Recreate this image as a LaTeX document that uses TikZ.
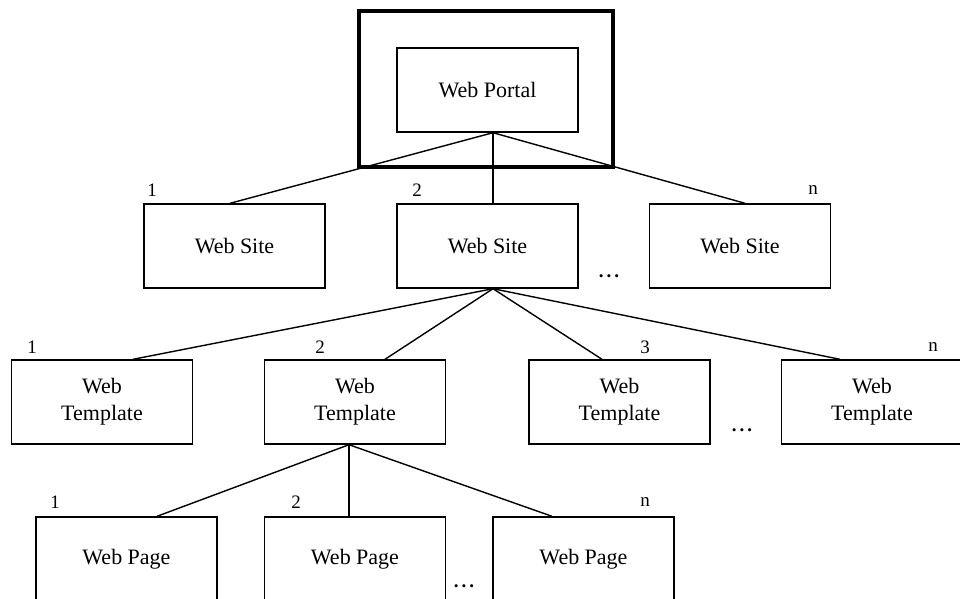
\documentclass[tikz,border=0pt]{standalone}
\usepackage{fontspec}
\setmainfont{Liberation Serif}
\begin{document}
\begin{tikzpicture}[x=1pt,y=-1pt,
  box/.style={draw, line width=1.4pt, minimum width=181pt, minimum height=84pt,
    inner sep=0pt, align=center, font=\fontsize{22}{27}\selectfont},
  frame/.style={draw, line width=3.8pt, minimum width=254pt, minimum height=156pt, inner sep=0pt},
  link/.style={line width=1.4pt},
  idx/.style={inner sep=0pt, font=\fontsize{19}{22}\selectfont},
  more/.style={inner sep=0pt, font=\bfseries\fontsize{19}{22}\selectfont}]
\useasboundingbox (0,0) rectangle (960,598);

% top level
\node[frame] (outer) at (486,89) {};
\node[box] (portal) at (487.5,90) {Web Portal};

% web sites
\node[box] (s1) at (234.5,246) {Web Site};
\node[box] (s2) at (487.5,246) {Web Site};
\node[box] (sn) at (740,246) {Web Site};
\node[idx] (ls1) at (152,190) {1};
\node[idx] (ls2) at (417,190) {2};
\node[idx] (lsn) at (813,190) {n};
\node[more] (ds) at (609,276) {.\hspace{3pt}.\hspace{3pt}.};

\coordinate (pa) at ([xshift=5.5pt]portal.south);
\draw[link] (pa) -- ([xshift=-4.5pt]s1.north);
\draw[link] (pa) -- ([xshift=5.5pt]s2.north);
\draw[link] (pa) -- ([xshift=5pt]sn.north);

% web templates
\node[box] (t1) at (102,402) {Web\\Template};
\node[box] (t2) at (355,402) {Web\\Template};
\node[box] (t3) at (619.5,402) {Web\\Template};
\node[box] (tn) at (872,402) {Web\\Template};
\node[idx] (lt1) at (32,347) {1};
\node[idx] (lt2) at (320,347) {2};
\node[idx] (lt3) at (645,347) {3};
\node[idx] (ltn) at (933,347) {n};
\node[more] (dt) at (742,430) {.\hspace{3pt}.\hspace{3pt}.};

\coordinate (sa) at ([xshift=5.5pt]s2.south);
\draw[link] (sa) -- ([xshift=31pt]t1.north);
\draw[link] (sa) -- ([xshift=30pt]t2.north);
\draw[link] (sa) -- ([xshift=-17.5pt]t3.north);
\draw[link] (sa) -- ([xshift=-32pt]tn.north);

% web pages
\node[box] (p1) at (126.5,559) {Web Page};
\node[box] (p2) at (355,559) {Web Page};
\node[box] (pn) at (583.5,559) {Web Page};
\node[idx] (lp1) at (55,502) {1};
\node[idx] (lp2) at (296,502) {2};
\node[idx] (lpn) at (645,502) {n};
\node[more] (dp) at (464,586) {.\hspace{3pt}.\hspace{3pt}.};

\coordinate (ta) at ([xshift=-6pt]t2.south);
\draw[link] (ta) -- ([xshift=30.5pt]p1.north);
\draw[link] (ta) -- ([xshift=-6pt]p2.north);
\draw[link] (ta) -- ([xshift=-31.5pt]pn.north);
\end{tikzpicture}
\end{document}
